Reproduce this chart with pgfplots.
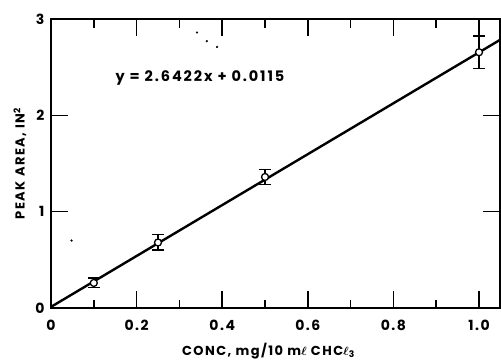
\documentclass[border=0pt]{standalone}
\usepackage{pgfplots}
\pgfplotsset{compat=1.18}
\usepackage{fontspec}
\setmainfont{Poppins}[BoldFont={Poppins Bold}]
\newfontfamily\wide{Poppins}[BoldFont={Poppins Bold}, LetterSpace=11]
\newfontfamily\wider{Poppins}[BoldFont={Poppins Bold}, LetterSpace=13]
\begin{document}
\begin{tikzpicture}
\begin{axis}[name=ax, at={(0,0)}, anchor=south west,
  scale only axis, width=449pt, height=289pt,
  xmin=0, xmax=1.049, ymin=0, ymax=3,
  xtick={0,0.2,0.4,0.6,0.8,1.0},
  xticklabels={0,0.2,0.4,0.6,0.8,1.0},
  ytick={0,1,2,3}, yticklabels={0,1,2,3},
  major tick length=0pt,
  axis line style={line width=1.6pt},
  xticklabel style={anchor=center, yshift=-17pt, font=\fontsize{14}{14}\selectfont\wide\bfseries},
  yticklabel style={anchor=east, xshift=-3pt, font=\fontsize{14}{14}\selectfont\bfseries},
  clip=false,
]
% tick marks (vertical: x ticks, bottom and top)
\addplot[only marks, mark size=0pt, mark options={draw=none, fill=none},
  error bars/.cd, y dir=both, y explicit,
  error bar style={line width=1.5pt, draw=black}, error mark=none]
  coordinates {
  (0.2,0.088) +- (0,0.088) (0.4,0.088) +- (0,0.088) (0.6,0.088) +- (0,0.088)
  (0.8,0.088) +- (0,0.088) (1.0,0.088) +- (0,0.088)
  (0.2,2.912) +- (0,0.088) (0.4,2.912) +- (0,0.088) (0.6,2.912) +- (0,0.088)
  (0.8,2.912) +- (0,0.088) (1.0,2.912) +- (0,0.088)
  (0.1,0.042) +- (0,0.042) (0.3,0.042) +- (0,0.042) (0.5,0.042) +- (0,0.042)
  (0.7,0.042) +- (0,0.042) (0.9,0.042) +- (0,0.042)
  (0.1,2.953) +- (0,0.047) (0.3,2.953) +- (0,0.047) (0.5,2.953) +- (0,0.047)
  (0.7,2.953) +- (0,0.047) (0.9,2.953) +- (0,0.047)
  };
% tick marks (horizontal: y ticks, left and right)
\addplot[only marks, mark size=0pt, mark options={draw=none, fill=none},
  error bars/.cd, x dir=both, x explicit,
  error bar style={line width=1.5pt, draw=black}, error mark=none]
  coordinates {
  (0.02,1) +- (0.02,0) (0.02,2) +- (0.02,0)
  (1.029,1) +- (0.02,0) (1.029,2) +- (0.02,0)
  };
\addplot[line width=2.4pt, black] coordinates {(0,0.0115) (1.049,2.783)};
\addplot[black, only marks, mark=*, mark size=3.5pt,
  mark options={fill=white, line width=1.3pt},
  error bars/.cd, y dir=both, y explicit,
  error bar style={line width=1.4pt, black},
  error mark options={rotate=90, mark size=6pt, line width=1.4pt, black}]
  coordinates {
  (0.1,0.26) +- (0,0.05)
  (0.25,0.68) +- (0,0.08)
  (0.5,1.36) +- (0,0.075)
  (1.0,2.655) +- (0,0.17)
  };
\addplot[black, only marks, mark=*, mark size=0.9pt] coordinates {
  (0.048,0.70) (0.341,2.86) (0.364,2.77) (0.388,2.71)};
\node[font=\fontsize{14.5}{14.5}\selectfont\wider\bfseries] at (axis cs:0.348,2.39) {y = 2.6422x + 0.0115};
\end{axis}
\node[rotate=90, font=\fontsize{13}{13}\selectfont\wide\bfseries] at ([xshift=-31pt]ax.west) {PEAK AREA, IN\textsuperscript{2}};
\node[font=\fontsize{13}{13}\selectfont\wide\bfseries\boldmath] at ([xshift=-7pt,yshift=-43pt]ax.south) {CONC, mg/10 m$\ell$ CHC$\ell$\textsubscript{3}};
\pgfresetboundingbox
\path[use as bounding box] ([xshift=-51pt,yshift=-52pt]ax.south west) rectangle ([xshift=1pt,yshift=19pt]ax.north east);
\end{tikzpicture}
\end{document}
